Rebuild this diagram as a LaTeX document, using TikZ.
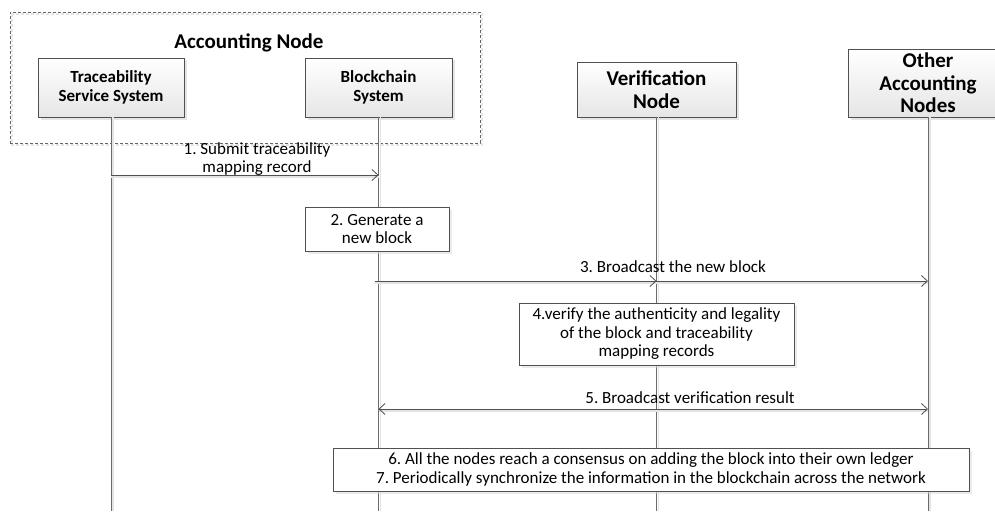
\documentclass[tikz,border=0pt]{standalone}
\usepackage{fontspec}
\setmainfont{Carlito}
\frenchspacing
\usetikzlibrary{arrows.meta,shadows}
\definecolor{edge}{HTML}{505050}
\definecolor{lifegray}{HTML}{6A6A6A}
\definecolor{softgray}{HTML}{E4E4E4}
\tikzset{
  headbig/.style={draw=edge, top color=white, bottom color=black!10,
    drop shadow={shadow xshift=2.5pt, shadow yshift=-2.5pt, fill=black!20},
    align=center, inner sep=0pt, font=\bfseries\fontsize{21}{22.5}\selectfont},
  headsmall/.style={headbig, font=\bfseries\fontsize{17}{19}\selectfont},
  actbox/.style={draw=edge, fill=white,
    drop shadow={shadow xshift=2.5pt, shadow yshift=-2.5pt, fill=black!15},
    align=center, inner sep=0pt, font=\fontsize{17}{18.5}\selectfont},
  msglabel/.style={align=center, inner sep=0pt, font=\fontsize{17}{18}\selectfont},
  lifeline/.style={draw=lifegray, line width=0.9pt},
  lifeshadow/.style={draw=softgray, line width=1.6pt},
  msg/.style={draw=edge, line width=0.8pt, -{Straight Barb[length=6pt,width=11pt]}},
  msgboth/.style={draw=edge, line width=0.8pt, {Straight Barb[length=6pt,width=11pt]}-{Straight Barb[length=6pt,width=11pt]}},
  msgshadow/.style={draw=softgray, line width=1.4pt},
  groupframe/.style={draw=black!60, line width=0.7pt, dash pattern=on 3pt off 2pt,
    minimum width=470pt, minimum height=131pt, inner sep=0pt},
}
\begin{document}
\begin{tikzpicture}[x=1pt,y=-1pt]
\useasboundingbox (0,0) rectangle (995,511);
\clip (0,0) rectangle (995,511);
\fill[white] (0,0) rectangle (995,511);

% group frame around the accounting node components
\draw[draw=softgray, line width=1.2pt, dash pattern=on 3pt off 2pt] (12,14) rectangle (482,145);
\node[groupframe] (acc) at (245,77.5) {};
\node[font=\bfseries\fontsize{21}{22.5}\selectfont, inner sep=0pt] (acctitle) at (249,43) {Accounting Node};

% participants
\node[headsmall, minimum width=146pt, minimum height=59pt] (tss) at (111,87.5) {Traceability\\Service System};
\node[headsmall, minimum width=147pt, minimum height=59pt] (bc) at (378.5,87.5) {Blockchain\\System};
\node[headbig, minimum width=159pt, minimum height=55pt] (vn) at (656.5,89.5) {Verification\\Node};
\node[headbig, minimum width=160pt, minimum height=68pt] (oan) at (928,83) {Other\\Accounting\\Nodes};

% reference rows
\coordinate (bot) at (0,511);
\coordinate (r1) at (0,175);
\coordinate (r3) at (0,281);
\coordinate (r5) at (0,409);

% lifelines
\foreach \p in {tss,bc,vn,oan}{
  \draw[lifeshadow] ([xshift=2pt]\p.south) -- ([xshift=2pt]\p.south |- bot);
}
\foreach \p in {tss,bc,vn,oan}{
  \draw[lifeline] (\p.south) -- (\p.south |- bot);
}

% step 1
\draw[msgshadow] ([yshift=-2pt]tss.south |- r1) -- ([yshift=-2pt]bc.south |- r1);
\draw[msg] (tss.south |- r1) -- (bc.south |- r1);
\node[msglabel] (lab1) at (257,159) {1. Submit traceability\\mapping record};

% step 2
\node[actbox, minimum width=144pt, minimum height=44pt] (gen) at (377,229) {2. Generate a\\new block};

% step 3
\draw[msgshadow] ([xshift=-4pt,yshift=-2pt]bc.south |- r3) -- ([yshift=-2pt]oan.south |- r3);
\draw[msg] ([xshift=-4pt]bc.south |- r3) -- (vn.south |- r3);
\draw[msg] ([xshift=-4pt]bc.south |- r3) -- (oan.south |- r3);
\node[msglabel] (lab3) at (673,267) {3. Broadcast the new block};

% step 4
\node[actbox, minimum width=275pt, minimum height=62pt] (ver) at (656.5,334) {4.verify the authenticity and legality\\of the block and traceability\\mapping records};

% step 5
\draw[msgshadow] ([yshift=-2pt]bc.south |- r5) -- ([yshift=-2pt]oan.south |- r5);
\draw[msgboth] (bc.south |- r5) -- (oan.south |- r5);
\node[msglabel] (lab5) at (690,398) {5. Broadcast verification result};

% steps 6 and 7
\node[actbox, minimum width=636pt, minimum height=43pt] (cons) at (651,469.5) {6. All the nodes reach a consensus on adding the block into their own ledger\\7. Periodically synchronize the information in the blockchain across the network};
\end{tikzpicture}
\end{document}
